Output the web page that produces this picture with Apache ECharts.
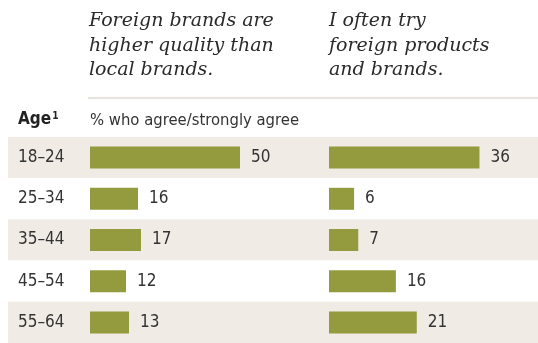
<!DOCTYPE html>
<html>
<head>
<meta charset="utf-8">
<script src="https://cdn.jsdelivr.net/npm/echarts@6/dist/echarts.min.js"></script>
<style>
  html, body { margin: 0; padding: 0; background: #ffffff; }
  #chart { width: 538px; height: 343px; }
</style>
</head>
<body>
<div id="chart"></div>
<script>
// Age groups and the share (%) who agree/strongly agree with each statement
const ageGroups = ['18–24', '25–34', '35–44', '45–54', '55–64'];
const higherQuality = [50, 16, 17, 12, 13];   // Foreign brands are higher quality than local brands.
const tryForeign = [36, 6, 7, 16, 21];        // I often try foreign products and brands.

const headLeft = 'Foreign brands are\nhigher quality than\nlocal brands.';
const headRight = 'I often try\nforeign products\nand brands.';
const subHead = '% who agree/strongly agree';

const NARROW = '"DejaVu Sans Condensed", "Liberation Sans Narrow", "Liberation Sans", sans-serif';
const SERIF = '"DejaVu Serif", "Liberation Serif", serif';
const BAR = '#939b3e';
const BAND = '#f0ebe5';
const INK = '#333333';

const chart = echarts.init(document.getElementById('chart'), null, { renderer: 'canvas' });

const rowTop = 137, rowH = 210;

const labelStyle = {
  show: true,
  position: 'right',
  distance: 11,
  color: INK,
  fontFamily: NARROW,
  fontSize: 17
};

const headStyle = {
  fontFamily: SERIF, fontStyle: 'italic', fontWeight: 'normal',
  fontSize: 19, lineHeight: 24.5, color: '#2a2a2a'
};

chart.setOption({
  animation: false,
  backgroundColor: '#ffffff',
  title: [
    { text: headLeft, left: 89, top: 9, padding: 0, textStyle: headStyle },
    { text: headRight, left: 329, top: 9, padding: 0, textStyle: headStyle },
    {
      text: '{a|Age}{s|1}', left: 18, top: 111, padding: 0,
      textStyle: {
        rich: {
          a: { fontFamily: NARROW, fontWeight: 'bold', fontSize: 17, color: '#222' },
          s: { fontFamily: NARROW, fontSize: 10, color: '#222', verticalAlign: 'top', padding: [0, 0, 6, 1] }
        }
      }
    },
    {
      text: subHead, left: 90, top: 112, padding: 0,
      textStyle: { fontFamily: NARROW, fontWeight: 'normal', fontSize: 16.5, color: INK }
    }
  ],
  graphic: [
    {
      type: 'line',
      shape: { x1: 88, y1: 98, x2: 538, y2: 98 },
      style: { stroke: '#e6e2dd', lineWidth: 2 }
    }
  ],
  grid: [
    // full-width row bands
    { left: 8, right: 0, top: rowTop, height: rowH },
    // left statement
    { left: 90, width: 300, top: rowTop, height: rowH },
    // right statement
    { left: 329, width: 209, top: rowTop, height: rowH }
  ],
  xAxis: [
    { gridIndex: 0, type: 'value', min: 0, max: 1, show: false },
    { gridIndex: 1, type: 'value', min: 0, max: 100, show: false },
    { gridIndex: 2, type: 'value', min: 0, max: 50, show: false }
  ],
  yAxis: [
    {
      gridIndex: 0, type: 'category', data: ageGroups, inverse: true,
      axisLine: { show: false }, axisTick: { show: false }, axisLabel: { show: false },
      splitLine: { show: false },
      splitArea: { show: true, areaStyle: { color: [BAND, '#ffffff'] } }
    },
    {
      gridIndex: 1, type: 'category', data: ageGroups, inverse: true,
      axisLine: { show: false }, axisTick: { show: false },
      axisLabel: { align: 'left', margin: 72, color: INK, fontFamily: NARROW, fontSize: 17 }
    },
    {
      gridIndex: 2, type: 'category', data: ageGroups, inverse: true,
      axisLine: { show: false }, axisTick: { show: false }, axisLabel: { show: false }
    }
  ],
  series: [
    {
      type: 'bar', xAxisIndex: 1, yAxisIndex: 1, data: higherQuality,
      barWidth: 22, itemStyle: { color: BAR }, label: labelStyle
    },
    {
      type: 'bar', xAxisIndex: 2, yAxisIndex: 2, data: tryForeign,
      barWidth: 22, itemStyle: { color: BAR }, label: labelStyle
    }
  ]
});
</script>
</body>
</html>
